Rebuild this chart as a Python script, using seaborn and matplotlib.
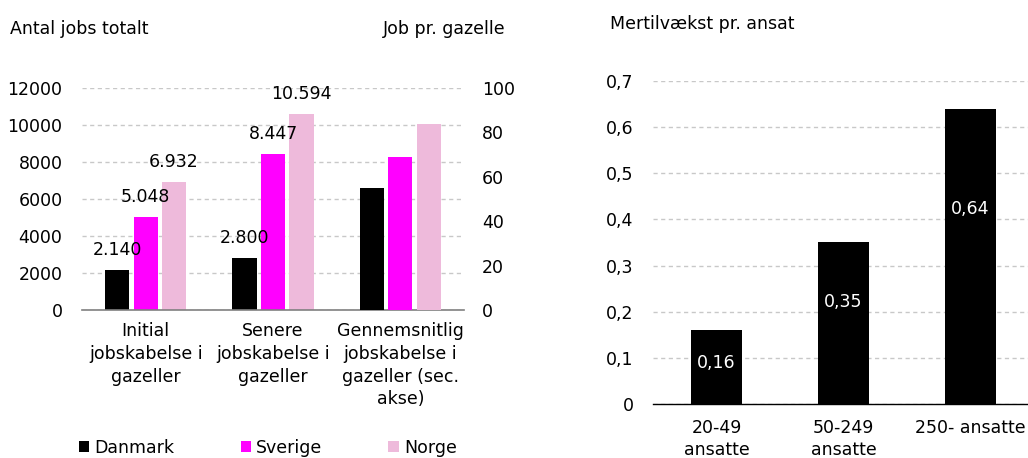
import matplotlib
matplotlib.use("Agg")
import matplotlib.pyplot as plt
import numpy as np
import pandas as pd
import seaborn as sns
from matplotlib.patches import Patch

# ---------------- data ----------------
categories = [
    "Initial\njobskabelse i\ngazeller",
    "Senere\njobskabelse i\ngazeller",
    "Gennemsnitlig\njobskabelse i\ngazeller (sec.\nakse)",
]
countries = ["Danmark", "Sverige", "Norge"]
danmark = [2140, 2800, 55]
sverige = [5048, 8447, 69]
norge = [6932, 10594, 84]
primary_ticks = [0, 2000, 4000, 6000, 8000, 10000, 12000]
secondary_ticks = [0, 20, 40, 60, 80, 100]

size_groups = ["20-49\nansatte", "50-249\nansatte", "250- ansatte"]
growth = [0.16, 0.35, 0.64]
growth_ticks = [0, 0.1, 0.2, 0.3, 0.4, 0.5, 0.6, 0.7]

# ---------------- style ----------------
sns.set_style("white")
FS = 12.5
plt.rcParams["font.family"] = ["DejaVu Sans"]
plt.rcParams["font.size"] = FS
plt.rcParams["text.color"] = "black"
plt.rcParams["xtick.color"] = "black"
plt.rcParams["ytick.color"] = "black"
plt.rcParams["axes.labelcolor"] = "black"

colors = {"Danmark": "#000000", "Sverige": "#FF00FF", "Norge": "#EEBADB"}
grid_kw = dict(color="#c8c8c8", linestyle=(0, (3, 2.5)), linewidth=1)
label_frac = [0.56, 0.63, 0.66]  # label placement within right bars

W, H = 1028, 458
fig = plt.figure(figsize=(W / 100, H / 100), dpi=100)

rows = []
for c, vals in zip(countries, [danmark, sverige, norge]):
    for cat, v in zip(categories, vals):
        rows.append({"category": cat, "country": c, "value": v})
df = pd.DataFrame(rows)

# ---------------- left chart ----------------
ax = fig.add_axes([82 / W, 1 - 310 / H, 382 / W, 222 / H])
primary = df[df["category"].isin(categories[:2])]
sns.barplot(data=primary, x="category", y="value", hue="country",
            order=categories, hue_order=countries, palette=colors,
            width=0.67, gap=0.15, saturation=1, errorbar=None,
            linewidth=0, legend=False, ax=ax)
ax2 = ax.twinx()
secondary = df[df["category"] == categories[2]]
sns.barplot(data=secondary, x="category", y="value", hue="country",
            order=categories, hue_order=countries, palette=colors,
            width=0.67, gap=0.15, saturation=1, errorbar=None,
            linewidth=0, legend=False, ax=ax2)

ax.set_xlim(-0.5, 2.5)
ax.set_ylim(0, 12000)
ax2.set_ylim(0, 100)
ax.set_yticks(primary_ticks)
ax.set_yticklabels([str(t) for t in primary_ticks])
ax2.set_yticks(secondary_ticks)
ax2.set_yticklabels([str(t) for t in secondary_ticks])
ax.yaxis.grid(True, **grid_kw)
ax.xaxis.grid(False)
ax2.grid(False)
ax.set_axisbelow(True)
for a in (ax, ax2):
    for s in ("top", "left", "right"):
        a.spines[s].set_visible(False)
    a.set_xlabel("")
    a.set_ylabel("")
ax2.spines["bottom"].set_visible(False)
ax.spines["bottom"].set_color("#808080")
ax.spines["bottom"].set_linewidth(1.2)
ax.tick_params(axis="y", length=0, pad=14, labelsize=FS)
ax.tick_params(axis="x", length=0, pad=9, labelsize=FS)
ax2.tick_params(axis="y", length=0, pad=13, labelsize=FS)
ax.set_xticks(range(len(categories)))
ax.set_xticklabels(categories, linespacing=1.33)

for cont in ax.containers:
    ax.bar_label(cont, labels=[f"{v:,.0f}".replace(",", ".") for v in cont.datavalues],
                 padding=8, fontsize=FS)

fig.text(10 / W, 1 - 29 / H, "Antal jobs totalt", ha="left", va="center", fontsize=FS)
fig.text(506 / W, 1 - 29 / H, "Job pr. gazelle", ha="right", va="center", fontsize=FS)

handles = [Patch(facecolor=colors[c], edgecolor="none", label=c) for c in countries]
fig.legend(handles=handles, loc="center left", bbox_to_anchor=(79 / W, 1 - 448 / H),
           ncol=3, frameon=False, borderpad=0, borderaxespad=0,
           handlelength=0.6, handleheight=0.6, handletextpad=0.3,
           columnspacing=3.8, fontsize=FS)

# ---------------- right chart ----------------
ax3 = fig.add_axes([653 / W, 1 - 404 / H, 381 / W, 323 / H])
sns.barplot(x=size_groups, y=growth, color="black", width=0.4, saturation=1,
            linewidth=0, errorbar=None, ax=ax3)
ax3.set_xlim(-0.5, 2.5)
ax3.set_ylim(0, 0.7)
ax3.set_yticks(growth_ticks)
ax3.set_yticklabels(["0" if t == 0 else f"{t:.1f}".replace(".", ",") for t in growth_ticks])
ax3.yaxis.grid(True, **grid_kw)
ax3.xaxis.grid(False)
ax3.set_axisbelow(True)
for s in ("top", "left", "right"):
    ax3.spines[s].set_visible(False)
ax3.spines["bottom"].set_color("#000000")
ax3.spines["bottom"].set_linewidth(1.0)
ax3.tick_params(axis="y", length=0, pad=14, labelsize=FS)
ax3.set_xticks(range(len(size_groups)))
ax3.set_xticklabels(size_groups, linespacing=1.25)
ax3.tick_params(axis="x", which="major", length=0, pad=11, labelsize=FS)
ax3.set_xticks([-0.5, 0.5, 1.5], minor=True)
ax3.tick_params(axis="x", which="minor", length=5, width=1, direction="out", color="#000000")
ax3.set_xlabel("")
ax3.set_ylabel("")
for i, (v, f) in enumerate(zip(growth, label_frac)):
    ax3.text(i, v * f, f"{v:.2f}".replace(".", ","), color="white",
             ha="center", va="center", fontsize=FS)

fig.text(610 / W, 1 - 24 / H, "Mertilvækst pr. ansat", ha="left", va="center", fontsize=FS)

fig.savefig("out.png", dpi=100)
